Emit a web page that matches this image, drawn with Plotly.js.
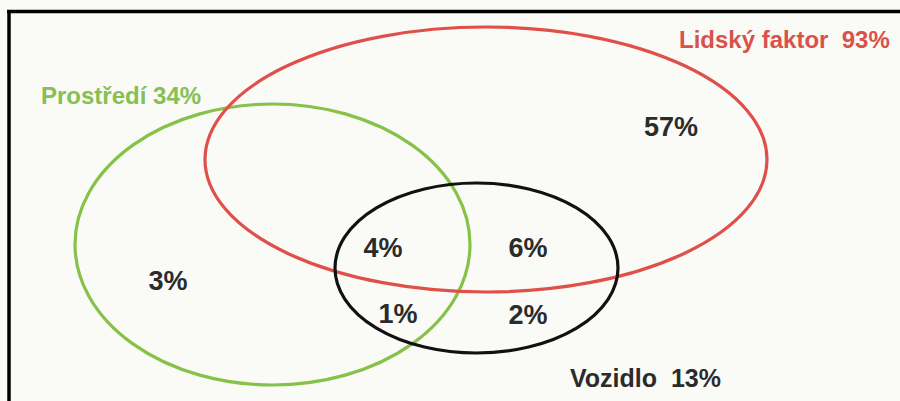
<!DOCTYPE html>
<html>
<head>
<meta charset="utf-8">
<script src="https://cdn.plot.ly/plotly-3.0.1.min.js"></script>
<style>
  html, body { margin: 0; padding: 0; background: #fafaf6; }
  #chart { width: 900px; height: 401px; }
</style>
</head>
<body>
<div id="chart"></div>
<script>
// ---- Data ----
const setNames = ['Lidský faktor', 'Prostředí', 'Vozidlo'];
const setValues = [93, 34, 13];
const regionNames = ['Lidský faktor', 'Lidský faktor + Prostředí + Vozidlo', 'Lidský faktor + Vozidlo',
                     'Prostředí + Vozidlo', 'Vozidlo', 'Prostředí'];
const regionValues = [57, 4, 6, 1, 2, 3];

// ---- Layout geometry (pixel-like coordinate space) ----
const regionX = [671, 383, 528, 398, 528, 168];
const regionY = [129, 250, 250, 316, 317, 283];

const setColors = ['#e0504a', '#86c24a', '#111111'];
const ellipses = [
  {x0: 75,  x1: 470, y0: 104, y1: 385, color: setColors[1]},
  {x0: 205, x1: 767, y0: 27,  y1: 292, color: setColors[0]},
  {x0: 335, x1: 618, y0: 183, y1: 353, color: setColors[2]}
];

const shapes = ellipses.map(e => ({
  type: 'circle', xref: 'x', yref: 'y',
  x0: e.x0, x1: e.x1, y0: e.y0, y1: e.y1,
  line: {color: e.color, width: 3.2}, fillcolor: 'rgba(0,0,0,0)', layer: 'above'
}));
// frame lines (top and left)
shapes.push({type: 'line', xref: 'x', yref: 'y', x0: 7, x1: 900, y0: 11.5, y1: 11.5, line: {color: '#000', width: 3.5}});
shapes.push({type: 'line', xref: 'x', yref: 'y', x0: 9, x1: 9, y0: 10, y1: 401, line: {color: '#000', width: 3.5}});

const fontFam = '"Liberation Sans", Arial, sans-serif';

const regionTrace = {
  type: 'scatter', mode: 'text',
  x: regionX, y: regionY,
  text: regionValues.map(v => v + '%'),
  textfont: {family: fontFam, size: 27, color: '#2b2b2b', weight: 'bold'},
  textposition: 'middle center',
  hoverinfo: 'skip', showlegend: false
};

const annotations = [
  {x: 677, y: 39, xanchor: 'left', text: setNames[0] + '  ' + setValues[0] + '%', color: '#d9514b', size: 24},
  {x: 39,  y: 95, xanchor: 'left', text: setNames[1] + ' ' + setValues[1] + '%', color: '#86c053', size: 24},
  {x: 645, y: 378, xanchor: 'center', text: setNames[2] + '  ' + setValues[2] + '%', color: '#2b2b2b', size: 25}
].map(a => ({
  x: a.x, y: a.y, xref: 'x', yref: 'y', xanchor: a.xanchor, yanchor: 'middle',
  text: '<b>' + a.text + '</b>', showarrow: false,
  font: {family: fontFam, size: a.size, color: a.color}
}));

const layout = {
  width: 900, height: 401,
  margin: {l: 0, r: 0, t: 0, b: 0},
  paper_bgcolor: '#fafaf6', plot_bgcolor: '#fafaf6',
  xaxis: {range: [0, 900], visible: false, fixedrange: true},
  yaxis: {range: [401, 0], visible: false, fixedrange: true},
  shapes: shapes,
  annotations: annotations,
  showlegend: false
};

Plotly.newPlot('chart', [regionTrace], layout, {displayModeBar: false, staticPlot: true});
</script>
</body>
</html>
